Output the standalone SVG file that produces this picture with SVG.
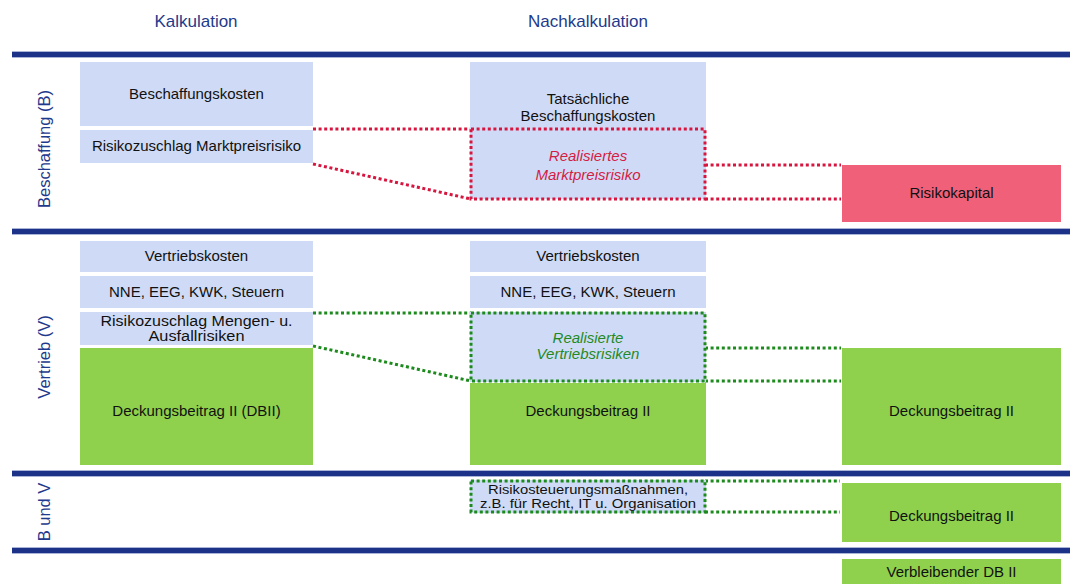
<svg xmlns="http://www.w3.org/2000/svg" width="1072" height="584" viewBox="0 0 1072 584">
<style>
text{font-family:"Liberation Sans",Arial,Helvetica,sans-serif;}
.hdr{font-size:17px;fill:#1e3a8c;text-anchor:middle;}
.side{font-size:16.5px;fill:#1e3a8c;text-anchor:middle;}
.t{font-size:15px;fill:#111;text-anchor:middle;}
.ts{font-size:14px;fill:#111;text-anchor:middle;}
.tn{font-size:13px;fill:#111;text-anchor:middle;}
.ri{font-size:15px;fill:#d41c44;text-anchor:middle;font-style:italic;}
.gi{font-size:15px;fill:#1f8a24;text-anchor:middle;font-style:italic;}
.blue{fill:#cfdbf6;}
.green{fill:#8fd14c;}
.red{fill:#f06079;}
.bar{fill:#1c3288;}
.barl{fill:#a9b4d6;}
.rd{fill:none;stroke:#d6163f;stroke-width:3;stroke-dasharray:3 2.6;}
.gd{fill:none;stroke:#1d8a1d;stroke-width:3;stroke-dasharray:3 2.6;}
</style>

<g id="headers">
<text class="hdr" x="196" y="27">Kalkulation</text>
<text class="hdr" x="588" y="27">Nachkalkulation</text>
</g>

<g id="bars">
<rect class="barl" x="12" y="51" width="1058" height="7"/>
<rect class="bar" x="12" y="52" width="1058" height="5"/>
<rect class="barl" x="12" y="228" width="1058" height="7"/>
<rect class="bar" x="12" y="229" width="1058" height="5"/>
<rect class="barl" x="12" y="470" width="1058" height="7"/>
<rect class="bar" x="12" y="471" width="1058" height="5"/>
<rect class="barl" x="12" y="547" width="1058" height="7"/>
<rect class="bar" x="12" y="548" width="1058" height="5"/>
</g>

<g id="side-labels">
<text class="side" transform="translate(50,149) rotate(-90)">Beschaffung (B)</text>
<text class="side" transform="translate(50,357) rotate(-90)">Vertrieb (V)</text>
<text class="side" transform="translate(50,512) rotate(-90)">B und V</text>
</g>

<g id="connectors">
<line class="rd" x1="313" y1="129" x2="471" y2="129"/>
<line class="rd" x1="313" y1="164" x2="471" y2="199"/>
<line class="rd" x1="705" y1="165" x2="841" y2="165"/>
<line class="rd" x1="705" y1="199" x2="841" y2="199"/>
<line class="gd" x1="313" y1="313" x2="471" y2="313"/>
<line class="gd" x1="313" y1="346" x2="471" y2="381"/>
<line class="gd" x1="705" y1="348" x2="841" y2="348"/>
<line class="gd" x1="705" y1="381" x2="841" y2="381"/>
<line class="gd" x1="705" y1="481" x2="840" y2="481"/>
<line class="gd" x1="705" y1="512" x2="840" y2="512"/>
</g>

<g id="beschaffungskosten">
<rect class="blue" x="80" y="62" width="233" height="64"/>
<text class="t" x="196.5" y="99">Beschaffungskosten</text>
</g>
<g id="risikozuschlag-markt">
<rect class="blue" x="80" y="130" width="233" height="33"/>
<text class="t" x="196.5" y="151">Risikozuschlag Marktpreisrisiko</text>
</g>
<g id="tatsaechliche">
<rect class="blue" x="470" y="62" width="236" height="137"/>
<text class="t" x="588" y="104">Tatsächliche</text>
<text class="t" x="588" y="120.5">Beschaffungskosten</text>
</g>
<g id="realisiertes-markt">
<rect class="rd" x="471" y="129" width="234" height="70"/>
<text class="ri" x="588" y="161">Realisiertes</text>
<text class="ri" x="588" y="180">Marktpreisrisiko</text>
</g>
<g id="risikokapital">
<rect class="red" x="842" y="165" width="219" height="57"/>
<text class="t" x="951.5" y="198">Risikokapital</text>
</g>

<g id="vertriebskosten-k">
<rect class="blue" x="80" y="241" width="233" height="31"/>
<text class="t" x="196.5" y="261">Vertriebskosten</text>
</g>
<g id="nne-k">
<rect class="blue" x="80" y="276" width="233" height="32"/>
<text class="t" x="196.5" y="297">NNE, EEG, KWK, Steuern</text>
</g>
<g id="risikozuschlag-mengen">
<rect class="blue" x="80" y="312" width="233" height="33"/>
<text class="ts" x="196.5" y="326" textLength="192" lengthAdjust="spacingAndGlyphs">Risikozuschlag Mengen- u.</text>
<text class="ts" x="196.5" y="340.5" textLength="96" lengthAdjust="spacingAndGlyphs">Ausfallrisiken</text>
</g>
<g id="db2-k">
<rect class="green" x="80" y="348" width="233" height="117"/>
<text class="t" x="196.5" y="416">Deckungsbeitrag II (DBII)</text>
</g>

<g id="vertriebskosten-n">
<rect class="blue" x="470" y="241" width="236" height="31"/>
<text class="t" x="588" y="261">Vertriebskosten</text>
</g>
<g id="nne-n">
<rect class="blue" x="470" y="276" width="236" height="32"/>
<text class="t" x="588" y="297">NNE, EEG, KWK, Steuern</text>
</g>
<g id="realisierte-vertrieb">
<rect class="blue" x="470" y="312" width="236" height="70"/>
<rect class="gd" x="471" y="313" width="234" height="68"/>
<text class="gi" x="588" y="343">Realisierte</text>
<text class="gi" x="588" y="359">Vertriebsrisiken</text>
</g>
<g id="db2-n">
<rect class="green" x="470" y="383" width="236" height="82"/>
<text class="t" x="588" y="416">Deckungsbeitrag II</text>
</g>
<g id="db2-r">
<rect class="green" x="842" y="348" width="219" height="117"/>
<text class="t" x="951.5" y="416">Deckungsbeitrag II</text>
</g>

<g id="risikosteuerung">
<rect class="blue" x="470" y="480" width="236" height="33"/>
<rect class="gd" x="471" y="481" width="234" height="31"/>
<text class="tn" x="588" y="494" textLength="200" lengthAdjust="spacingAndGlyphs">Risikosteuerungsmaßnahmen,</text>
<text class="tn" x="588" y="507.5" textLength="216" lengthAdjust="spacingAndGlyphs">z.B. für Recht, IT u. Organisation</text>
</g>
<g id="db2-bv">
<rect class="green" x="842" y="483" width="219" height="59"/>
<text class="t" x="951.5" y="521">Deckungsbeitrag II</text>
</g>

<g id="verbleibender">
<rect class="green" x="842" y="559" width="219" height="30"/>
<text class="t" x="951.5" y="577">Verbleibender DB II</text>
</g>
</svg>
